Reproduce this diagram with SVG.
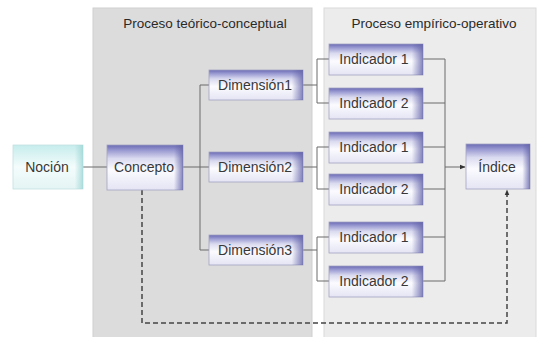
<svg xmlns="http://www.w3.org/2000/svg" width="540" height="337" viewBox="0 0 540 337">
  <defs>
    <linearGradient id="boxFill" x1="0" y1="0" x2="0" y2="1">
      <stop offset="0" stop-color="#6a6ab4"/>
      <stop offset="0.12" stop-color="#9a9ad2"/>
      <stop offset="0.3" stop-color="#dadaf0"/>
      <stop offset="0.55" stop-color="#fbfbff"/>
      <stop offset="1" stop-color="#e4e4f4"/>
    </linearGradient>
    <linearGradient id="boxSide" x1="0" y1="0" x2="1" y2="0">
      <stop offset="0" stop-color="#6464aa" stop-opacity="0"/>
      <stop offset="0.88" stop-color="#6464aa" stop-opacity="0"/>
      <stop offset="1" stop-color="#6464aa" stop-opacity="0.8"/>
    </linearGradient>
    <linearGradient id="cyanFill" x1="0" y1="0" x2="0" y2="1">
      <stop offset="0" stop-color="#c6ecec"/>
      <stop offset="0.5" stop-color="#f4fcfc"/>
      <stop offset="1" stop-color="#e4f4f4"/>
    </linearGradient>
    <linearGradient id="cyanSide" x1="0" y1="0" x2="1" y2="0">
      <stop offset="0" stop-color="#9fd6d6" stop-opacity="0"/>
      <stop offset="0.88" stop-color="#9fd6d6" stop-opacity="0"/>
      <stop offset="1" stop-color="#9fd6d6" stop-opacity="0.8"/>
    </linearGradient>
    <marker id="arrow" viewBox="0 0 10 10" refX="9" refY="5" markerWidth="6" markerHeight="6" orient="auto" markerUnits="userSpaceOnUse">
      <path d="M0,1 L10,5 L0,9 z" fill="#333"/>
    </marker>
    <style>
      .panel-l { fill: #dcdcdc; stroke: #cfcfcf; stroke-width: 1; }
      .panel-r { fill: #ececec; stroke: #dadada; stroke-width: 1; }
      .box { fill: url(#boxFill); stroke: #a4a4c4; stroke-width: 0.8; }
      .side { fill: url(#boxSide); }
      .cbox { fill: url(#cyanFill); stroke: #c4e0e0; stroke-width: 0.8; }
      .cside { fill: url(#cyanSide); }
      text { font-family: "Liberation Sans", Arial, sans-serif; font-size: 14px; fill: #383838; text-anchor: middle; }
      .head { font-size: 13.5px; fill: #2a2a2a; }
      .link { fill: none; stroke: #6a6a6a; stroke-width: 1; }
      .dash { fill: none; stroke: #444; stroke-width: 1.5; stroke-dasharray: 5 3; }
    </style>
  </defs>

  <rect width="540" height="337" fill="#ffffff"/>

  <!-- process panels -->
  <g id="panel-teorico">
    <rect class="panel-l" x="93" y="8" width="219" height="335"/>
    <text class="head" x="205" y="28">Proceso teórico-conceptual</text>
  </g>
  <g id="panel-empirico">
    <rect class="panel-r" x="324" y="8" width="212" height="335"/>
    <text class="head" x="434" y="28">Proceso empírico-operativo</text>
  </g>

  <!-- connectors -->
  <g id="connectors">
    <path class="link" d="M83,167 H107"/>
    <path class="link" d="M183,167 H209 M200,85 V250 M200,85 H209 M200,250 H209"/>
    <path class="link" d="M303,85 H317 M317,59 V103 M317,59 H329 M317,103 H329"/>
    <path class="link" d="M303,167 H317 M317,147 V189 M317,147 H329 M317,189 H329"/>
    <path class="link" d="M303,250 H317 M317,237 V281 M317,237 H329 M317,281 H329"/>
    <path class="link" d="M423,59 H445 M423,103 H445 M423,147 H445 M423,189 H445 M423,237 H445 M423,281 H445 M445,59 V281"/>
    <path class="link" d="M445,167 H465" stroke="#333" marker-end="url(#arrow)"/>
    <path class="dash" d="M142,190 V323 H507 V190" marker-end="url(#arrow)"/>
  </g>

  <!-- nodes -->
  <g id="nocion">
    <rect class="cbox" x="13" y="145" width="70" height="44"/>
    <rect class="cside" x="13" y="145" width="70" height="44"/>
    <text x="47" y="172">Noción</text>
  </g>
  <g id="concepto">
    <rect class="box" x="107" y="145" width="76" height="45"/>
    <rect class="side" x="107" y="145" width="76" height="45"/>
    <text x="144" y="172">Concepto</text>
  </g>
  <g id="dimension1">
    <rect class="box" x="209" y="70" width="94" height="30"/>
    <rect class="side" x="209" y="70" width="94" height="30"/>
    <text x="255" y="90">Dimensión1</text>
  </g>
  <g id="dimension2">
    <rect class="box" x="209" y="152" width="94" height="30"/>
    <rect class="side" x="209" y="152" width="94" height="30"/>
    <text x="255" y="172">Dimensión2</text>
  </g>
  <g id="dimension3">
    <rect class="box" x="209" y="235" width="94" height="30"/>
    <rect class="side" x="209" y="235" width="94" height="30"/>
    <text x="255" y="255">Dimensión3</text>
  </g>
  <g id="indicador-1a">
    <rect class="box" x="329" y="44" width="94" height="31"/>
    <rect class="side" x="329" y="44" width="94" height="31"/>
    <text x="374" y="64">Indicador 1</text>
  </g>
  <g id="indicador-1b">
    <rect class="box" x="329" y="88" width="94" height="31"/>
    <rect class="side" x="329" y="88" width="94" height="31"/>
    <text x="374" y="108">Indicador 2</text>
  </g>
  <g id="indicador-2a">
    <rect class="box" x="329" y="132" width="94" height="31"/>
    <rect class="side" x="329" y="132" width="94" height="31"/>
    <text x="374" y="152">Indicador 1</text>
  </g>
  <g id="indicador-2b">
    <rect class="box" x="329" y="174" width="94" height="31"/>
    <rect class="side" x="329" y="174" width="94" height="31"/>
    <text x="374" y="194">Indicador 2</text>
  </g>
  <g id="indicador-3a">
    <rect class="box" x="329" y="222" width="94" height="31"/>
    <rect class="side" x="329" y="222" width="94" height="31"/>
    <text x="374" y="242">Indicador 1</text>
  </g>
  <g id="indicador-3b">
    <rect class="box" x="329" y="266" width="94" height="31"/>
    <rect class="side" x="329" y="266" width="94" height="31"/>
    <text x="374" y="286">Indicador 2</text>
  </g>
  <g id="indice">
    <rect class="box" x="466" y="144" width="64" height="45"/>
    <rect class="side" x="466" y="144" width="64" height="45"/>
    <text x="497" y="172">Índice</text>
  </g>
</svg>
